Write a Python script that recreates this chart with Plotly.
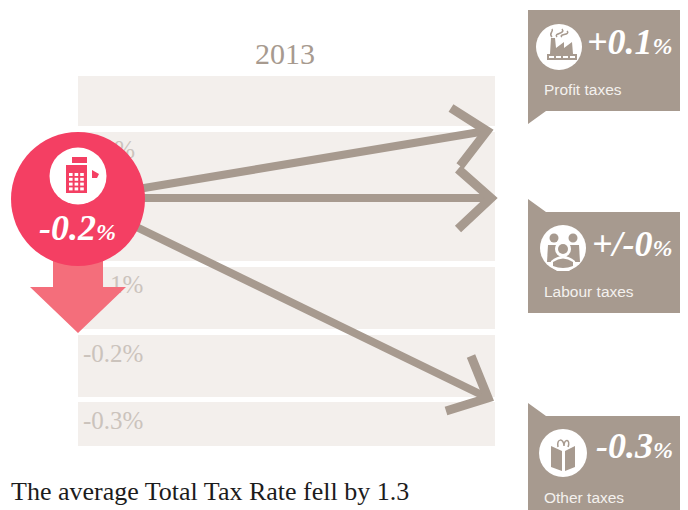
import plotly.graph_objects as go

# --- chart content ---
title_year = "2013"
footer_text = "The average Total Tax Rate fell by 1.3"
band_labels = ["", "0.0%", "-0.1%", "-0.2%", "-0.3%"]
band_top = [76, 132, 267, 335, 402]
band_bottom = [126, 261, 329, 397, 446]
band_label_y = [0, 152, 287, 356, 423]
total_value = "-0.2"
box_values = ["+0.1", "+/-0", "-0.3"]
box_names = ["Profit taxes", "Labour taxes", "Other taxes"]

TAUPE = "#a79a8f"
RED = "#f43f63"
ROSE = "#f46e7b"
BAND = "#f3efec"
BANDTXT = "#cbc3bc"
SERIF = "Liberation Serif"
SANS = "Liberation Sans"

fig = go.Figure()

# background bands
fig.add_trace(go.Bar(
    orientation="h", base=[78] * 5, x=[417] * 5,
    y=[(a + b) / 2 for a, b in zip(band_top, band_bottom)],
    width=[b - a for a, b in zip(band_top, band_bottom)],
    marker=dict(color=BAND, line=dict(width=0)), hoverinfo="skip", showlegend=False))
fig.add_trace(go.Scatter(
    x=[83] * 5, y=band_label_y, text=band_labels, mode="text", textposition="middle right",
    textfont=dict(family=SERIF, size=25, color=BANDTXT), hoverinfo="skip", showlegend=False))

shapes = []
def path(d, fill=None, line=None, w=0):
    s = dict(type="path", path=d, layer="above", line=dict(width=w, color=line or "rgba(0,0,0,0)"))
    if fill:
        s["fillcolor"] = fill
    shapes.append(s)

def poly(pts, close=True, **k):
    d = "M" + " L".join(f"{x},{y}" for x, y in pts) + (" Z" if close else "")
    path(d, **k)

def circle(cx, cy, r, fill):
    shapes.append(dict(type="circle", x0=cx - r, x1=cx + r, y0=cy - r, y1=cy + r,
                       fillcolor=fill, line=dict(width=0), layer="above"))

# arrows
for shaft, head in [
    ([(120, 192), (486, 131)], [(451, 108), (487, 131), (460, 166)]),
    ([(120, 198), (488, 198)], [(458, 169), (491, 198), (458, 229)]),
    ([(120, 219), (484, 396)], [(471, 356), (488, 398), (446, 411)]),
]:
    poly(shaft, close=False, line=TAUPE, w=8)
    poly(head, close=False, line=TAUPE, w=9)

# down arrow + main circle
poly([(53, 250), (103, 250), (103, 287), (126, 287), (78, 333), (30, 287), (53, 287)], fill=ROSE)
circle(78, 199, 67, RED)
circle(78, 176, 28.5, "white")

# calculator icon
poly([(66, 165), (87, 165), (87, 193), (66, 193)], fill=RED)
poly([(72, 157), (87, 157), (87, 163), (72, 163)], fill=RED)
poly([(92, 170), (99, 174), (97, 178), (92, 178)], fill=RED)
for i in range(3):
    for j in range(4):
        x0 = 69 + i * 5.6
        y0 = 173 + j * 4.8
        poly([(x0, y0), (x0 + 3.6, y0), (x0 + 3.6, y0 + 3), (x0, y0 + 3)], fill="white")

# callout boxes
poly([(528, 10), (680, 10), (680, 111), (546, 111), (528, 124)], fill=TAUPE)
poly([(528, 199), (546, 212), (680, 212), (680, 313), (528, 313)], fill=TAUPE)
poly([(528, 403), (546, 416), (680, 416), (680, 510), (528, 510)], fill=TAUPE)
circle(559, 47, 23, "white")
circle(563, 248, 23, "white")
circle(563, 453, 24, "white")

# factory icon
poly([(547, 54), (550, 54), (551, 38), (555, 38), (556, 48), (564, 42), (564, 48), (572, 42), (573, 54), (577, 54), (577, 60), (547, 60)], fill=TAUPE)
for i in range(4):
    x0 = 549 + i * 7
    poly([(x0, 56), (x0 + 5, 56), (x0 + 5, 58), (x0, 58)], fill="white")
path("M552,37 C548,33 554,32 552,29 M557,37 C553,33 566,34 562,29 M562,37 C558,34 571,35 567,31", line=TAUPE, w=1.5)

# people icon: two behind, one in front
for cx in (554, 573):
    circle(cx, 238, 4.5, TAUPE)
    poly([(cx - 6, 245), (cx + 6, 245), (cx + 7, 262), (cx - 7, 262)], fill=TAUPE)
circle(563, 249, 8, "white")
circle(563, 249, 5, TAUPE)
path("M550,266 L551,261 Q563,251 575,261 L576,266 L569,271 L557,271 Z", fill="white")
path("M553,266 L553,262 Q563,255 573,262 L573,266 Q563,270 553,266 Z", fill=TAUPE)

# book icon
poly([(551, 446), (562, 451), (562, 471), (551, 467)], fill=TAUPE)
poly([(565, 451), (575, 446), (575, 467), (565, 471)], fill=TAUPE)
path("M558,447 C556,438 564,438 564,446 M564,446 C564,438 571,439 568,447", line=TAUPE, w=1.5)

# texts
anns = []
def txt(x, y, text, family, size, color, anchor="left", **font):
    anns.append(dict(x=x, y=y, text=text, showarrow=False, xanchor=anchor, yanchor="middle",
                     font=dict(family=family, size=size, color=color, **font)))

def val(v, pct):
    return f"{v}<span style='font-size:{pct}px'>%</span>"

txt(285, 53, title_year, SERIF, 30, TAUPE, anchor="center")
txt(9, 491, footer_text, SERIF, 26, "#1c1c1c")
txt(77, 228, val(total_value, 24), SERIF, 36, "white", anchor="center", weight=700, style="italic")
for x, y, v in zip([675, 675, 675], [42, 244, 446], box_values):
    txt(x, y, val(v, 24), SERIF, 36, "white", anchor="right", weight=700, style="italic")
for y, n in zip([89, 291, 497], box_names):
    txt(542, y, n, SANS, 15.5, "#f4f1ee")

fig.update_layout(
    width=688, height=510, margin=dict(l=0, r=0, t=0, b=0),
    paper_bgcolor="white", plot_bgcolor="white", showlegend=False,
    xaxis=dict(range=[0, 688], visible=False, fixedrange=True),
    yaxis=dict(range=[510, 0], visible=False, fixedrange=True),
    shapes=shapes, annotations=anns,
)
fig.write_html("out.html", config=dict(displayModeBar=False),
               post_script="document.body.style.margin='0';")
